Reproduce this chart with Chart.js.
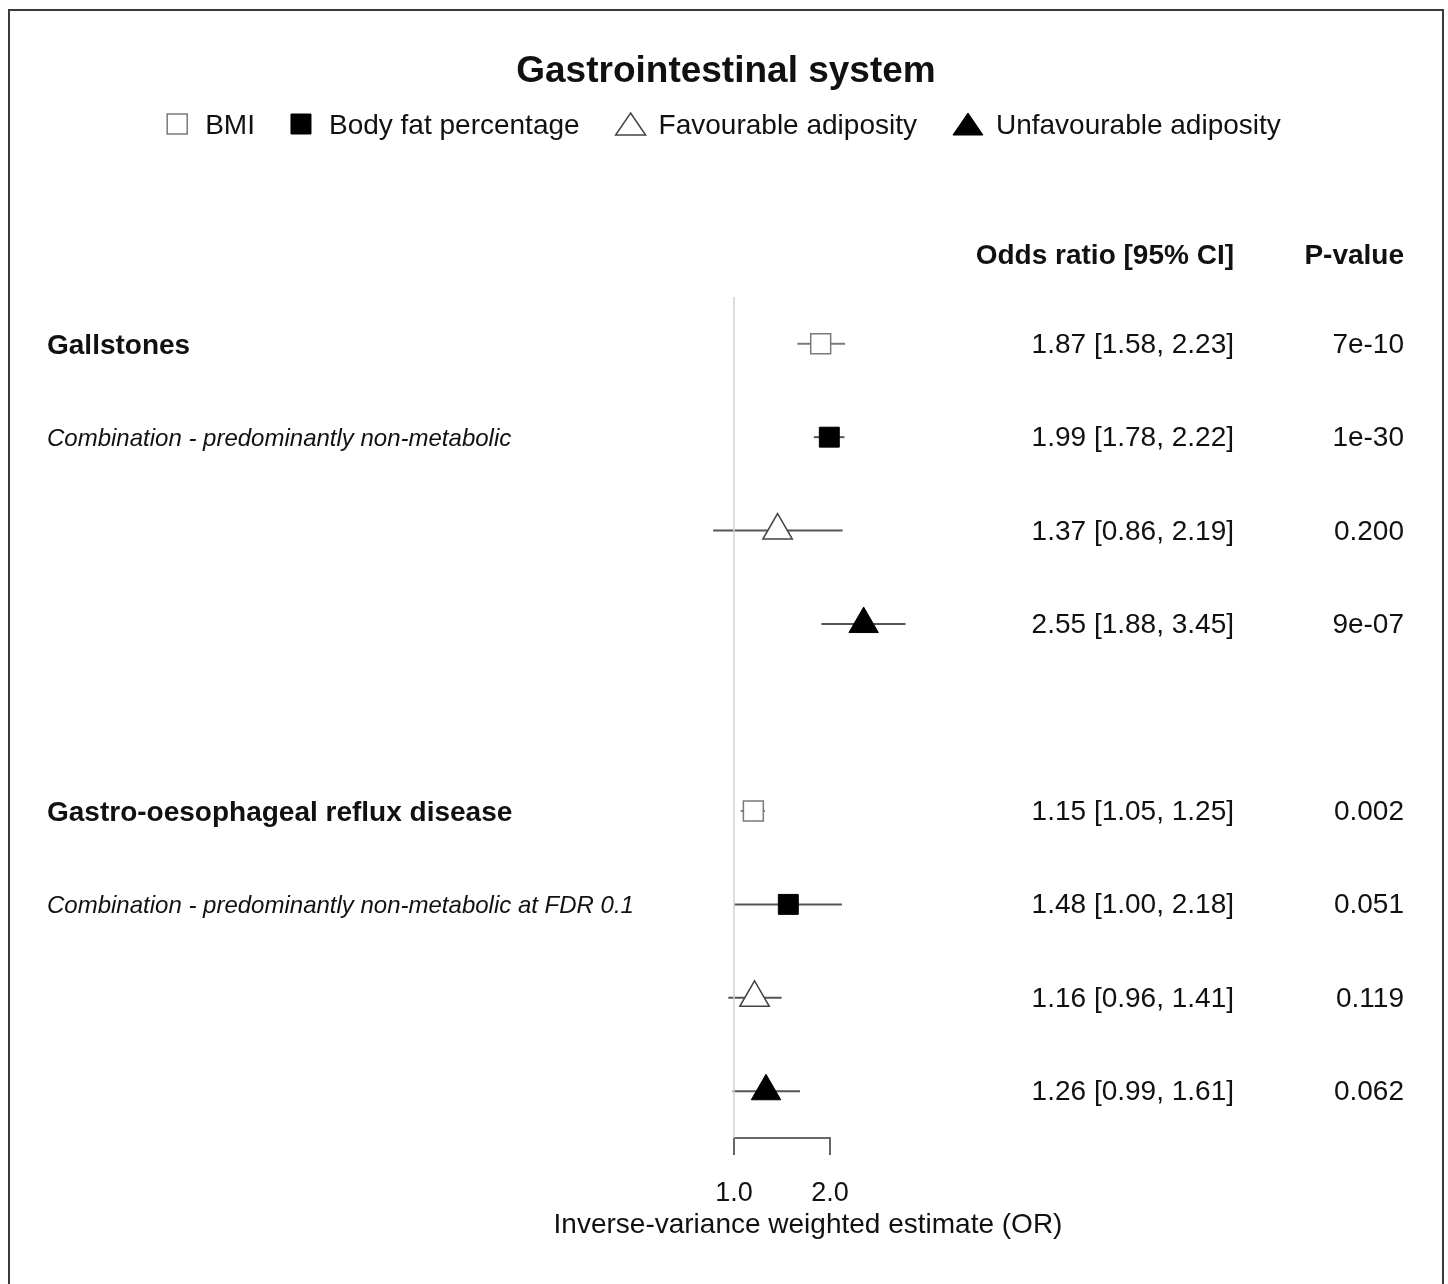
<!DOCTYPE html>
<html>
<head>
<meta charset="utf-8">
<title>Gastrointestinal system</title>
<script src="https://cdn.jsdelivr.net/npm/chart.js@4.4.1/dist/chart.umd.min.js"></script>
<style>
  html, body { margin: 0; padding: 0; background: #fff; }
  #wrap { width: 1448px; height: 1284px; }
</style>
</head>
<body>
<div id="wrap"><canvas id="myChart" width="1448" height="1284"></canvas></div>
<script>
var chartTitle = 'Gastrointestinal system';
var outcomes = ['Gallstones', 'Gastro-oesophageal reflux disease'];
var outcomeNotes = ['Combination - predominantly non-metabolic', 'Combination - predominantly non-metabolic at FDR 0.1'];
var exposures = ['BMI', 'Body fat percentage', 'Favourable adiposity', 'Unfavourable adiposity'];

// one entry per row, top to bottom
var rowOutcome  = [0, 0, 0, 0, 1, 1, 1, 1];
var rowExposure = [0, 1, 2, 3, 0, 1, 2, 3];
var estimates = [1.87, 1.99, 1.37, 2.55, 1.15, 1.48, 1.16, 1.26];
var lower     = [1.58, 1.78, 0.86, 1.88, 1.05, 1.00, 0.96, 0.99];
var upper     = [2.23, 2.22, 2.19, 3.45, 1.25, 2.18, 1.41, 1.61];
var pValues   = ['7e-10', '1e-30', '0.200', '9e-07', '0.002', '0.051', '0.119', '0.062'];

var xTicks = [1, 2];
var xTitle = 'Inverse-variance weighted estimate (OR)';
var colHeaders = ['Odds ratio [95% CI]', 'P-value'];

var FONT = '"Liberation Sans", Arial, Helvetica, sans-serif';
var INK = '#111';

var markerStyles = [
  { pointStyle: 'rect', radius: 14.1, fill: '#fff', stroke: '#7a7a7a', width: 1.5, whisker: '#7a7a7a' },
  { pointStyle: 'rect', radius: 14.1, fill: '#000', stroke: '#000', width: 1, whisker: '#555' },
  { pointStyle: 'triangle', radius: 17, fill: '#fff', stroke: '#444', width: 1.5, whisker: '#555' },
  { pointStyle: 'triangle', radius: 17, fill: '#000', stroke: '#000', width: 1, whisker: '#555' }
];

// gap of one empty row between the two outcomes
function rowPos(i) {
  return rowOutcome[i] * (exposures.length + 1) + rowExposure[i];
}

var datasets = [{
  type: 'line',
  data: [{ x: xTicks[0], y: -0.5 }, { x: xTicks[0], y: 8.5 }],
  borderColor: '#d2d2d2',
  borderWidth: 1.5,
  pointRadius: 0,
  order: 10
}];
exposures.forEach(function (name, e) {
  var pts = [];
  for (var i = 0; i < estimates.length; i++) {
    if (rowExposure[i] === e) pts.push({ x: estimates[i], y: rowPos(i) });
  }
  var st = markerStyles[e];
  datasets.push({
    label: name,
    data: pts,
    pointStyle: st.pointStyle,
    pointRadius: st.radius,
    pointBackgroundColor: st.fill,
    pointBorderColor: st.stroke,
    pointBorderWidth: st.width,
    order: 1
  });
});

function drawLegendMarker(ctx, e, cx, cy) {
  var st = markerStyles[e];
  ctx.fillStyle = st.fill;
  ctx.strokeStyle = st.stroke;
  ctx.lineWidth = st.width;
  ctx.beginPath();
  if (st.pointStyle === 'rect') {
    ctx.rect(cx - 10, cy - 10, 20, 20);
  } else {
    ctx.moveTo(cx, cy - 11);
    ctx.lineTo(cx + 15, cy + 11);
    ctx.lineTo(cx - 15, cy + 11);
    ctx.closePath();
  }
  ctx.fill();
  ctx.stroke();
}

var forestExtras = {
  id: 'forestExtras',
  beforeDraw: function (chart) {
    var ctx = chart.ctx;
    ctx.save();
    ctx.fillStyle = '#fff';
    ctx.fillRect(0, 0, chart.width, chart.height);
    ctx.strokeStyle = '#3a3a3a';
    ctx.lineWidth = 2;
    ctx.strokeRect(9, 10, 1434, 1300);
    ctx.restore();
  },
  beforeDatasetsDraw: function (chart) {
    var ctx = chart.ctx, xs = chart.scales.x, ys = chart.scales.y;
    ctx.save();
    ctx.lineWidth = 2;
    for (var i = 0; i < estimates.length; i++) {
      var py = ys.getPixelForValue(rowPos(i));
      ctx.strokeStyle = markerStyles[rowExposure[i]].whisker;
      ctx.beginPath();
      ctx.moveTo(xs.getPixelForValue(lower[i]), py);
      ctx.lineTo(xs.getPixelForValue(upper[i]), py);
      ctx.stroke();
    }
    // axis line only between the outer ticks
    var b = chart.chartArea.bottom;
    ctx.strokeStyle = '#666';
    ctx.beginPath();
    ctx.moveTo(xs.getPixelForValue(xTicks[0]) - 1, b);
    ctx.lineTo(xs.getPixelForValue(xTicks[xTicks.length - 1]) + 1, b);
    ctx.stroke();
    ctx.restore();
  },
  afterDraw: function (chart) {
    var ctx = chart.ctx, ys = chart.scales.y;
    ctx.save();
    ctx.fillStyle = INK;
    ctx.textBaseline = 'alphabetic';

    // title
    ctx.font = 'bold 37px ' + FONT;
    ctx.textAlign = 'center';
    ctx.fillText(chartTitle, 726, 82);

    // legend, centred
    ctx.font = '28px ' + FONT;
    var items = exposures.map(function (name, e) {
      var mw = markerStyles[e].pointStyle === 'rect' ? 20 : 30;
      var gap = markerStyles[e].pointStyle === 'rect' ? 18 : 13;
      return { mw: mw, gap: gap, tw: ctx.measureText(name).width };
    });
    var total = 0;
    items.forEach(function (it, k) { total += it.mw + it.gap + it.tw + (k ? 36 : 0); });
    var lx = 724 - total / 2;
    ctx.textAlign = 'left';
    items.forEach(function (it, e) {
      drawLegendMarker(ctx, e, lx + it.mw / 2, 124);
      ctx.fillStyle = INK;
      ctx.fillText(exposures[e], lx + it.mw + it.gap, 134);
      lx += it.mw + it.gap + it.tw + 36;
    });

    // column headers
    ctx.font = 'bold 28px ' + FONT;
    ctx.textAlign = 'right';
    ctx.fillText(colHeaders[0], 1234, 264);
    ctx.fillText(colHeaders[1], 1404, 264);

    // rows
    ctx.font = '28px ' + FONT;
    for (var i = 0; i < estimates.length; i++) {
      var py = ys.getPixelForValue(rowPos(i));
      ctx.fillText(estimates[i].toFixed(2) + ' [' + lower[i].toFixed(2) + ', ' + upper[i].toFixed(2) + ']', 1234, py + 9);
      ctx.fillText(pValues[i], 1404, py + 9);
    }

    // outcome labels on the left
    ctx.textAlign = 'left';
    outcomes.forEach(function (name, o) {
      var first = rowPos(rowOutcome.indexOf(o));
      ctx.font = 'bold 28px ' + FONT;
      ctx.fillText(name, 47, ys.getPixelForValue(first) + 10);
      ctx.font = 'italic 24px ' + FONT;
      ctx.fillText(outcomeNotes[o], 47, ys.getPixelForValue(first + 1) + 8.5);
    });
    ctx.restore();
  }
};

var ctx = document.getElementById('myChart').getContext('2d');

var myChart = new Chart(ctx, {
  type: 'scatter',
  data: { datasets: datasets },
  options: {
    responsive: false,
    animation: false,
    // plot area 300..1316 so that OR 1 sits at x=734 and OR 2 at x=830
    layout: { padding: { left: 300, right: 132, top: 297, bottom: 0 } },
    plugins: {
      legend: { display: false },
      tooltip: { enabled: false },
      title: { display: false }
    },
    scales: {
      x: {
        type: 'logarithmic',
        position: 'bottom',
        bounds: 'data',
        min: 0.04356,
        max: 66.83,
        afterBuildTicks: function (scale) {
          scale.ticks = xTicks.map(function (v) { return { value: v }; });
        },
        afterFit: function (scale) { scale.height = 146; },
        border: { display: false },
        grid: { drawOnChartArea: false, drawTicks: true, tickLength: 17, color: '#666', lineWidth: 2 },
        ticks: {
          autoSkip: false,
          maxRotation: 0,
          padding: 22,
          color: INK,
          font: { family: FONT, size: 27 },
          callback: function (v) { return Number(v).toFixed(1); }
        },
        title: {
          display: true,
          text: xTitle,
          color: INK,
          font: { family: FONT, size: 28 },
          padding: { top: 0, bottom: 42 }
        }
      },
      y: {
        type: 'linear',
        display: false,
        reverse: true,
        min: -0.5,
        max: 8.5
      }
    }
  },
  plugins: [forestExtras]
});
</script>
</body>
</html>
